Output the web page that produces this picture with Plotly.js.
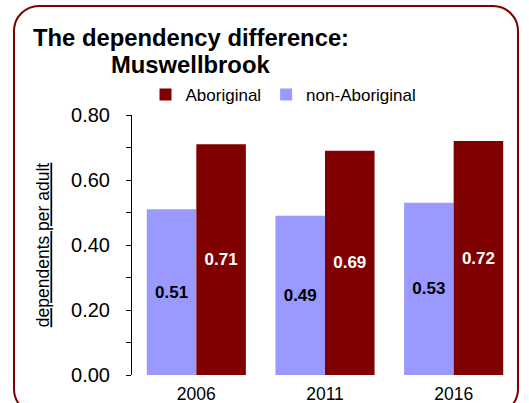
<!DOCTYPE html>
<html>
<head>
<meta charset="utf-8">
<script src="https://cdn.plot.ly/plotly-3.0.1.min.js"></script>
<style>
html, body { margin: 0; padding: 0; background: #ffffff; overflow: hidden; }
#wrap { position: relative; width: 529px; height: 403px; overflow: hidden; }
#frame { position: absolute; left: 13px; top: 5px; width: 506px; height: 410px; box-sizing: border-box;
         border: 2.5px solid #7f0000; border-radius: 26px; }
#chart { position: absolute; left: 0; top: 0; width: 529px; height: 403px; }
</style>
</head>
<body>
<div id="wrap">
  <div id="frame"></div>
  <div id="chart"></div>
</div>
<script>
const years = ['2006', '2011', '2016'];
const nonAboriginal = [0.51, 0.49, 0.53];
const aboriginal = [0.71, 0.69, 0.72];
const seriesNames = ['non-Aboriginal', 'Aboriginal'];
const titleLines = ['The dependency difference:', 'Muswellbrook'];
const yTitle = 'dependents per adult';

const FONT = 'Liberation Sans, Arial, sans-serif';

const traces = [
  {
    type: 'bar', name: seriesNames[0], x: years, y: nonAboriginal,
    marker: { color: '#9999ff' },
    text: nonAboriginal.map(v => v.toFixed(2)),
    textposition: 'inside', insidetextanchor: 'middle', textangle: 0,
    textfont: { family: FONT, size: 17, color: '#000000', weight: 'bold' },
    hoverinfo: 'none'
  },
  {
    type: 'bar', name: seriesNames[1], x: years, y: aboriginal,
    marker: { color: '#800000' },
    text: aboriginal.map(v => v.toFixed(2)),
    textposition: 'inside', insidetextanchor: 'middle', textangle: 0,
    textfont: { family: FONT, size: 17, color: '#ffffff', weight: 'bold' },
    hoverinfo: 'none'
  }
];

const layout = {
  width: 529, height: 403,
  margin: { l: 132, r: 11, t: 115, b: 28, pad: 0 },
  paper_bgcolor: 'rgba(0,0,0,0)',
  plot_bgcolor: 'rgba(0,0,0,0)',
  font: { family: FONT, color: '#000000' },
  barmode: 'group', bargap: 0.23, bargroupgap: 0,
  showlegend: true,
  legend: {
    orientation: 'h', traceorder: 'reversed',
    x: 0.035, xanchor: 'left', y: 1.077, yanchor: 'middle',
    font: { family: FONT, size: 17, color: '#000000' },
    bgcolor: 'rgba(0,0,0,0)', borderwidth: 0, itemwidth: 30
  },
  xaxis: {
    type: 'category', showgrid: false, zeroline: false, showline: false,
    ticks: '', tickfont: { family: FONT, size: 17.5, color: '#000000' },
    ticklabelstandoff: 6, fixedrange: true
  },
  yaxis: {
    range: [0, 0.8], dtick: 0.2, tick0: 0, tickformat: '.2f',
    showgrid: false, zeroline: false, showline: true, linecolor: '#000000', linewidth: 1,
    ticks: 'outside', ticklen: 5, tickcolor: '#000000', tickwidth: 1,
    minor: { dtick: 0.1, ticks: 'outside', ticklen: 5, tickcolor: '#000000', tickwidth: 1, showgrid: false },
    tickfont: { family: FONT, size: 20, color: '#000000' },
    ticklabelstandoff: 12,
    title: { text: '<span style="text-decoration:underline">' + yTitle + '</span>',
             font: { family: FONT, size: 17.5, color: '#000000' }, standoff: 16 },
    fixedrange: true
  },
  annotations: [
    { text: '<b>' + titleLines[0] + '</b>', xref: 'paper', yref: 'paper',
      x: (190.5 - 132) / 386, y: (375 - 38) / 260, xanchor: 'center', yanchor: 'middle',
      showarrow: false, font: { family: FONT, size: 23.8, color: '#000000' } },
    { text: '<b>' + titleLines[1] + '</b>', xref: 'paper', yref: 'paper',
      x: (190.5 - 132) / 386, y: (375 - 64) / 260, xanchor: 'center', yanchor: 'middle',
      showarrow: false, font: { family: FONT, size: 23.8, color: '#000000' } }
  ]
};

Plotly.newPlot('chart', traces, layout, { displayModeBar: false, staticPlot: true });
</script>
</body>
</html>
